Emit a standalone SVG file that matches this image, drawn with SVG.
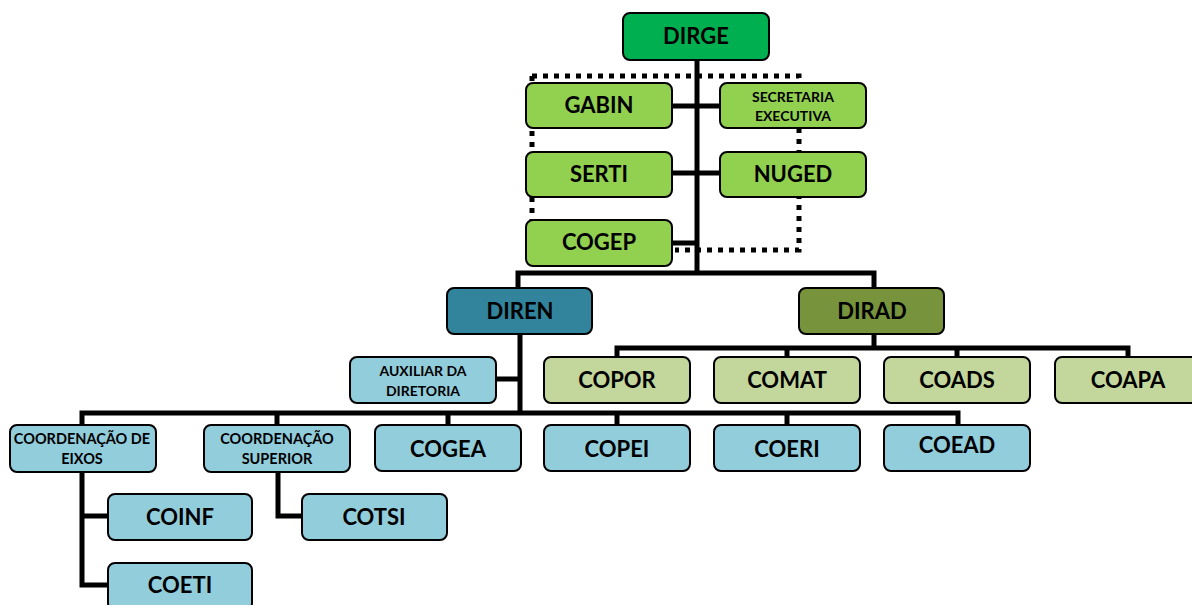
<svg xmlns="http://www.w3.org/2000/svg" width="1192" height="605" viewBox="0 0 1192 605">
<style>
.b{stroke:#000;stroke-width:2;}
.t{font-family:Lato,"Liberation Sans",sans-serif;font-weight:bold;fill:#000;text-anchor:middle;}
.l{font-size:22px;}
.s{font-size:14px;}
.s2{font-size:14.5px;}
.c{fill:none;stroke:#000;stroke-width:5;}
.d{fill:none;stroke:#000;stroke-width:5;stroke-dasharray:5 6;}
.g1{fill:#00B050}.g2{fill:#92D050}.dr{fill:#31849B}.da{fill:#77933C}.lg{fill:#C3D69B}.lb{fill:#92CDDC}
</style>
<rect width="1192" height="605" fill="#fff"/>
<g id="connectors">
<path class="d" d="M532 76H799V250H675"/>
<path class="d" d="M532 76V222"/>
<path class="c" d="M697 60V275"/>
<path class="c" d="M672 106H720M672 173H720M672 243H697"/>
<path class="c" d="M518 290V273H874V290"/>
<path class="c" d="M520 334V413M496 379H520"/>
<path class="c" d="M82 427V413H958V427M277 413V427M448 413V427M617 413V427M787 413V427"/>
<path class="c" d="M874 334V348M617 358V348H1128V358M787 348V358M957 348V358"/>
<path class="c" d="M82 472V585H108M82 516H108"/>
<path class="c" d="M278 472V516H302"/>
</g>
<g id="dirge"><rect class="b g1" x="623" y="13" width="146" height="47" rx="7"/><text class="t" x="696" y="44" font-size="22">DIRGE</text></g>
<g id="gabin"><rect class="b g2" x="526" y="83" width="146" height="45" rx="7"/><text class="t l" x="599" y="113">GABIN</text></g>
<g id="secretaria"><rect class="b g2" x="720" y="83" width="146" height="45" rx="7"/><text class="t s" x="793" y="102">SECRETARIA</text><text class="t s" x="793" y="121">EXECUTIVA</text></g>
<g id="serti"><rect class="b g2" x="526" y="152" width="146" height="45" rx="7"/><text class="t l" x="599" y="182">SERTI</text></g>
<g id="nuged"><rect class="b g2" x="720" y="152" width="146" height="45" rx="7"/><text class="t l" x="793" y="182">NUGED</text></g>
<g id="cogep"><rect class="b g2" x="526" y="220" width="146" height="46" rx="7"/><text class="t l" x="599" y="250">COGEP</text></g>
<g id="diren"><rect class="b dr" x="447" y="288" width="145" height="46" rx="7"/><text class="t l" x="520" y="319">DIREN</text></g>
<g id="dirad"><rect class="b da" x="799" y="288" width="145" height="46" rx="7"/><text class="t l" x="872" y="319">DIRAD</text></g>
<g id="auxiliar"><rect class="b lb" x="350" y="357" width="146" height="46" rx="7"/><text class="t s" x="423" y="376">AUXILIAR DA</text><text class="t s" x="423" y="396">DIRETORIA</text></g>
<g id="copor"><rect class="b lg" x="544" y="357" width="146" height="46" rx="7"/><text class="t l" x="617" y="388">COPOR</text></g>
<g id="comat"><rect class="b lg" x="714" y="357" width="146" height="46" rx="7"/><text class="t l" x="787" y="388">COMAT</text></g>
<g id="coads"><rect class="b lg" x="884" y="357" width="146" height="46" rx="7"/><text class="t l" x="957" y="388">COADS</text></g>
<g id="coapa"><rect class="b lg" x="1055" y="357" width="146" height="46" rx="7"/><text class="t l" x="1128" y="388">COAPA</text></g>
<g id="eixos"><rect class="b lb" x="10" y="425" width="146" height="47" rx="7"/><text class="t s2" x="82" y="444">COORDENAÇÃO DE</text><text class="t s2" x="82" y="464">EIXOS</text></g>
<g id="superior"><rect class="b lb" x="204" y="425" width="146" height="47" rx="7"/><text class="t s2" x="277" y="444">COORDENAÇÃO</text><text class="t s2" x="277" y="464">SUPERIOR</text></g>
<g id="cogea"><rect class="b lb" x="375" y="425" width="146" height="46" rx="7"/><text class="t l" x="448" y="457">COGEA</text></g>
<g id="copei"><rect class="b lb" x="544" y="425" width="146" height="46" rx="7"/><text class="t l" x="617" y="457">COPEI</text></g>
<g id="coeri"><rect class="b lb" x="714" y="425" width="146" height="46" rx="7"/><text class="t l" x="787" y="457">COERI</text></g>
<g id="coead"><rect class="b lb" x="884" y="425" width="146" height="46" rx="7"/><text class="t l" x="957" y="453">COEAD</text></g>
<g id="coinf"><rect class="b lb" x="108" y="494" width="144" height="46" rx="7"/><text class="t l" x="180" y="525">COINF</text></g>
<g id="cotsi"><rect class="b lb" x="302" y="494" width="145" height="46" rx="7"/><text class="t l" x="374" y="525">COTSI</text></g>
<g id="coeti"><rect class="b lb" x="108" y="563" width="144" height="47" rx="7"/><text class="t l" x="180" y="593">COETI</text></g>
</svg>
